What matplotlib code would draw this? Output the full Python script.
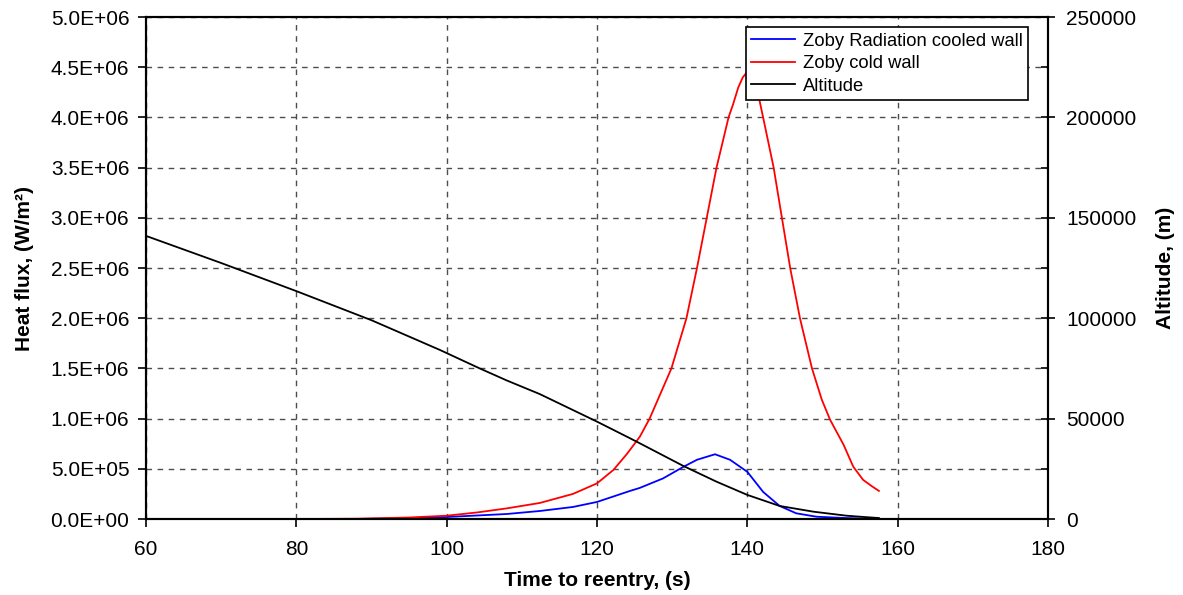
import numpy as np
import matplotlib.pyplot as plt
from matplotlib.ticker import FormatStrFormatter, MultipleLocator

plt.rcParams['font.family'] = ['Liberation Sans', 'DejaVu Sans']

# cold wall heat flux (W/m2)
t_cold = [60, 80, 88, 95, 100, 104, 108, 112.4, 116.8, 120, 122.2, 124, 125.7, 127,
          129.9, 131.9, 133.3, 134.6, 135.9, 137.5, 138.1, 138.8, 139.4, 140, 140.8,
          141.5, 142.1, 143.5, 144.6, 145.7, 147.0, 148.6, 149.9, 151, 152.8, 154.1,
          155.4, 156.5, 157.5]
q_cold = [0, 0, 0.003e6, 0.015e6, 0.033e6, 0.065e6, 0.106e6, 0.16e6, 0.25e6, 0.355e6,
          0.49e6, 0.65e6, 0.82e6, 1.0e6, 1.5e6, 2.0e6, 2.5e6, 3.0e6, 3.5e6, 4.0e6,
          4.13e6, 4.3e6, 4.4e6, 4.455e6, 4.34e6, 4.21e6, 4.0e6, 3.5e6, 3.0e6, 2.5e6,
          2.0e6, 1.5e6, 1.19e6, 0.99e6, 0.74e6, 0.52e6, 0.39e6, 0.33e6, 0.28e6]

# radiation cooled wall heat flux (W/m2)
t_rad = [60, 88, 95, 100, 104, 108, 112.4, 116.8, 120, 124.4, 125.7, 128.8, 131.5,
         133.3, 135.7, 137.7, 140, 142.1, 144.3, 146.5, 149.2, 153, 157.2]
q_rad = [0, 0, 0.008e6, 0.02e6, 0.035e6, 0.05e6, 0.08e6, 0.12e6, 0.17e6, 0.28e6, 0.31e6,
         0.405e6, 0.52e6, 0.59e6, 0.645e6, 0.59e6, 0.47e6, 0.27e6, 0.13e6, 0.057e6,
         0.023e6, 0.01e6, 0]

# altitude (m)
t_alt = [60, 70, 80, 90, 99.1, 104.4, 108, 112.4, 120, 124.4, 125.7, 131.5, 135.9, 140,
         144.3, 148.8, 153.2, 156.3, 157.5]
alt = [141000, 127500, 113500, 99000, 84200, 75000, 69000, 62200, 48500, 40200, 37700,
       26400, 18600, 12000, 6500, 3650, 1650, 800, 500]

fig = plt.figure(figsize=(11.83, 5.95), dpi=100)
ax = fig.add_axes([0.1234, 0.1277, 0.7625, 0.8437])
ax2 = ax.twinx()

l1, = ax.plot(t_rad, q_rad, color='blue', lw=1.3, label='Zoby Radiation cooled wall')
l2, = ax.plot(t_cold, q_cold, color='red', lw=1.3, label='Zoby cold wall')
l3, = ax2.plot(t_alt, alt, color='black', lw=1.3, label='Altitude')

ax.set_xlim(60, 180)
ax.set_ylim(0, 5e6)
ax2.set_ylim(0, 250000)
ax.xaxis.set_major_locator(MultipleLocator(20))
ax.yaxis.set_major_locator(MultipleLocator(0.5e6))
ax.yaxis.set_major_formatter(FormatStrFormatter('%.1E'))
ax2.yaxis.set_major_locator(MultipleLocator(50000))
ax2.yaxis.set_minor_locator(MultipleLocator(25000))

ax.grid(True, color='0.3', linestyle=(0, (4, 4)), lw=1.0)
ax.tick_params(direction='out', length=6, width=1.2, labelsize=15, colors='black', pad=6)
ax.tick_params(axis='x', pad=9)
ax2.tick_params(which='major', direction='inout', length=10, width=1.2, labelsize=15, pad=8)
ax2.tick_params(which='minor', direction='in', length=5, width=1.2)
for a in (ax, ax2):
    for s in a.spines.values():
        s.set_linewidth(1.5)

ax.set_xlabel('Time to reentry, (s)', fontsize=15, fontweight='bold', labelpad=9)
ax.set_ylabel('Heat flux, (W/m²)', fontsize=15, fontweight='bold', labelpad=12)
ax2.set_ylabel('Altitude, (m)', fontsize=15, fontweight='bold', labelpad=14)

leg = ax2.legend(handles=[l1, l2, l3], loc='upper right', bbox_to_anchor=(0.9778, 0.98),
                 borderaxespad=0, fontsize=13.2, fancybox=False, framealpha=1,
                 edgecolor='black', handlelength=2.4, borderpad=0.3, labelspacing=0.3,
                 handletextpad=0.4)
leg.get_frame().set_linewidth(1.2)

fig.savefig('out.png', dpi=100)
